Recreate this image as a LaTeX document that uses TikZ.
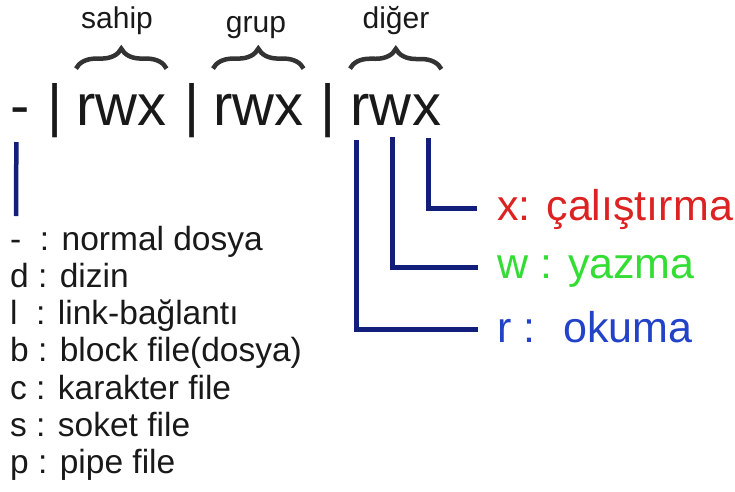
\documentclass[tikz,border=0pt]{standalone}
\usepackage{fontspec}
\setmainfont{Liberation Sans}
\usetikzlibrary{decorations.pathreplacing}
\definecolor{navy}{HTML}{111E7A}
\definecolor{braceg}{HTML}{333333}
\definecolor{lblred}{HTML}{DD2222}
\definecolor{lblgreen}{HTML}{33DD33}
\definecolor{lblblue}{HTML}{2242C8}
\begin{document}
\begin{tikzpicture}[x=1pt,y=-1pt,
  big/.style={inner sep=0pt,anchor=base west,font=\fontsize{58}{60}\selectfont,text=black!90},
  toplbl/.style={inner sep=0pt,anchor=base,font=\fontsize{30}{32}\selectfont,text=black!90},
  listtxt/.style={inner sep=0pt,anchor=base west,font=\fontsize{33.5}{35}\selectfont,text=black!90},
  permlbl/.style={inner sep=0pt,anchor=base west,font=\fontsize{43}{45}\selectfont},
  bracedeco/.style={draw=braceg,line width=4.5pt,decorate,decoration={brace,amplitude=20pt}},
  conn/.style={draw=navy,line width=5pt}]
\useasboundingbox (0,0) rectangle (735,491);
% top line
\node[big] (dash) at (10,125) {-};
\node[big] (bar1) at (47,125) {|};
\node[big] (g1) at (76,125) {rwx};
\node[big] (bar2) at (184,125) {|};
\node[big] (g2) at (213,125) {rwx};
\node[big] (bar3) at (320,125) {|};
\node[big] (r) at (350,125) {r};
\node[big] (w) at (r.base east) {w};
\node[big] (x) at (w.base east) {x};
% braces
\coordinate (b3w) at ([yshift=25pt]r.north west);
\coordinate (b3e) at ([yshift=25pt]x.north east);
\draw[bracedeco] ([yshift=25pt]g1.north west) -- ([yshift=25pt]g1.north east);
\draw[bracedeco] ([yshift=25pt]g2.north west) -- ([yshift=25pt]g2.north east);
\draw[bracedeco] (b3w) -- (b3e);
\node[toplbl] (sahip) at (117,28) {sahip};
\node[toplbl] (grup) at (256,32) {grup};
\node[toplbl] (diger) at (396,28) {diğer};
% permission labels
\node[permlbl,text=lblred] (xl) at (497,220) {x: çalıştırma};
\node[permlbl,text=lblgreen] (wl) at (497,278) {w : yazma};
\node[permlbl,text=lblblue] (rl) at (497,342) {r : ~okuma};
\draw[conn] ([xshift=2pt,yshift=-13pt]x.base) |- ([xshift=-20pt,yshift=12pt]xl.base west);
\draw[conn] ([xshift=2pt,yshift=-12pt]w.base) |- ([xshift=-19pt,yshift=11pt]wl.base west);
\draw[conn] ([xshift=-3pt,yshift=-15pt]r.base) |- ([xshift=-19pt,yshift=13pt]rl.base west);
% type list
\node[listtxt] (l1) at (10,250) {-~~: normal dosya};
\node[listtxt] (l2) at (10,287) {d : dizin};
\node[listtxt] (l3) at (10,324) {l~~: link-bağlantı};
\node[listtxt] (l4) at (10,361) {b : block file(dosya)};
\node[listtxt] (l5) at (10,399) {c : karakter file};
\node[listtxt] (l6) at (10,436) {s : soket file};
\node[listtxt] (l7) at (10,473) {p : pipe file};
\coordinate (lend) at (16,216);
\draw[conn,line width=4.5pt] ([xshift=-3.5pt,yshift=-17pt]dash.base) -- (lend);
\end{tikzpicture}
\end{document}
